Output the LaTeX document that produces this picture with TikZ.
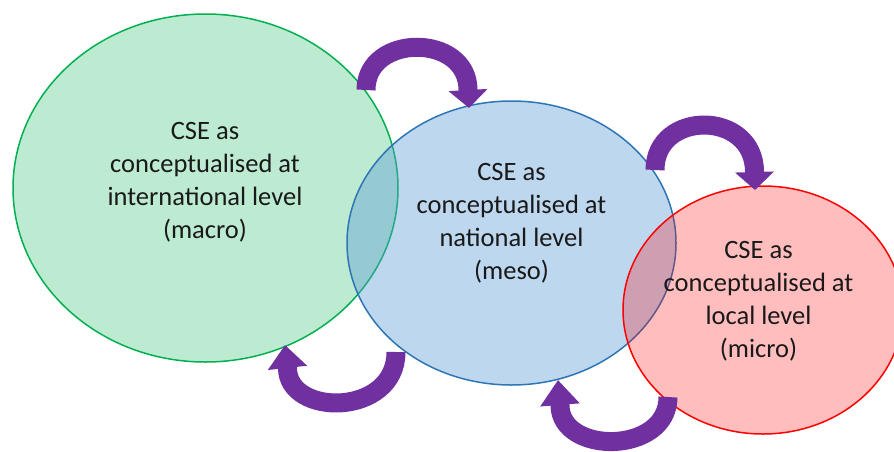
\documentclass[tikz,border=0pt]{standalone}
\usepackage{fontspec}
\setmainfont{Carlito}
\usetikzlibrary{arrows.meta}
\definecolor{gstroke}{RGB}{0,176,80}
\definecolor{bstroke}{RGB}{46,117,182}
\definecolor{bfill}{RGB}{91,155,213}
\definecolor{rstroke}{RGB}{255,0,0}
\definecolor{cyclepurple}{RGB}{112,48,160}
\tikzset{
  levelellipse/.style={line width=1.5pt},
  leveltext/.style={align=center, inner sep=0pt, text=black!90,
    font=\fontsize{26.5}{33}\selectfont},
  cyclearrow/.style={draw=cyclepurple, line width=19pt,
    -{Triangle[width=38pt,length=#1]}},
}
\begin{document}
\begin{tikzpicture}[x=1pt,y=-1pt]
\useasboundingbox (0,0) rectangle (894,451);
\clip (0,0) rectangle (894,451);
% ellipses
\draw[levelellipse, draw=gstroke, fill=gstroke, fill opacity=0.26]
  (205.5,188) ellipse [x radius=192.5, y radius=174];
\draw[levelellipse, draw=bstroke, fill=bfill, fill opacity=0.4]
  (511.5,243) ellipse [x radius=164.5, y radius=142];
\draw[levelellipse, draw=rstroke, fill=rstroke, fill opacity=0.26]
  (763,310) ellipse [x radius=140, y radius=124];
% texts
\node[leveltext] (macro) at (205,182.6)
  {CSE as\\conceptualised at\\international level\\(macro)};
\node[leveltext] (meso) at (511.5,223.6)
  {CSE as\\conceptualised at\\national level\\(meso)};
\node[leveltext] (micro) at (758.5,301.6)
  {CSE as\\conceptualised at\\local level\\(micro)};
% cycle arrows
\coordinate (a1s) at (366,90);
\coordinate (a1b) at (468,90);
\coordinate (a1t) at (469,108);
\draw[cyclearrow=18pt] (a1s) .. controls (366,33) and (468,33) .. (a1b) -- (a1t);
\coordinate (a2s) at (655,170);
\coordinate (a2b) at (754.5,172);
\coordinate (a2t) at (755,190);
\draw[cyclearrow=18pt] (a2s) .. controls (655,109.7) and (754.5,109.7) .. (a2b) -- (a2t);
\coordinate (a3s) at (396,352);
\coordinate (a3b) at (287.5,368);
\coordinate (a3t) at (285,345);
\draw[cyclearrow=23pt] (a3s) .. controls (396,417) and (287.5,417) .. (a3b) -- (a3t);
\coordinate (a4s) at (668,397);
\coordinate (a4b) at (560,405);
\coordinate (a4t) at (558,380);
\draw[cyclearrow=25pt] (a4s) .. controls (668,455) and (560,455) .. (a4b) -- (a4t);
\end{tikzpicture}
\end{document}
